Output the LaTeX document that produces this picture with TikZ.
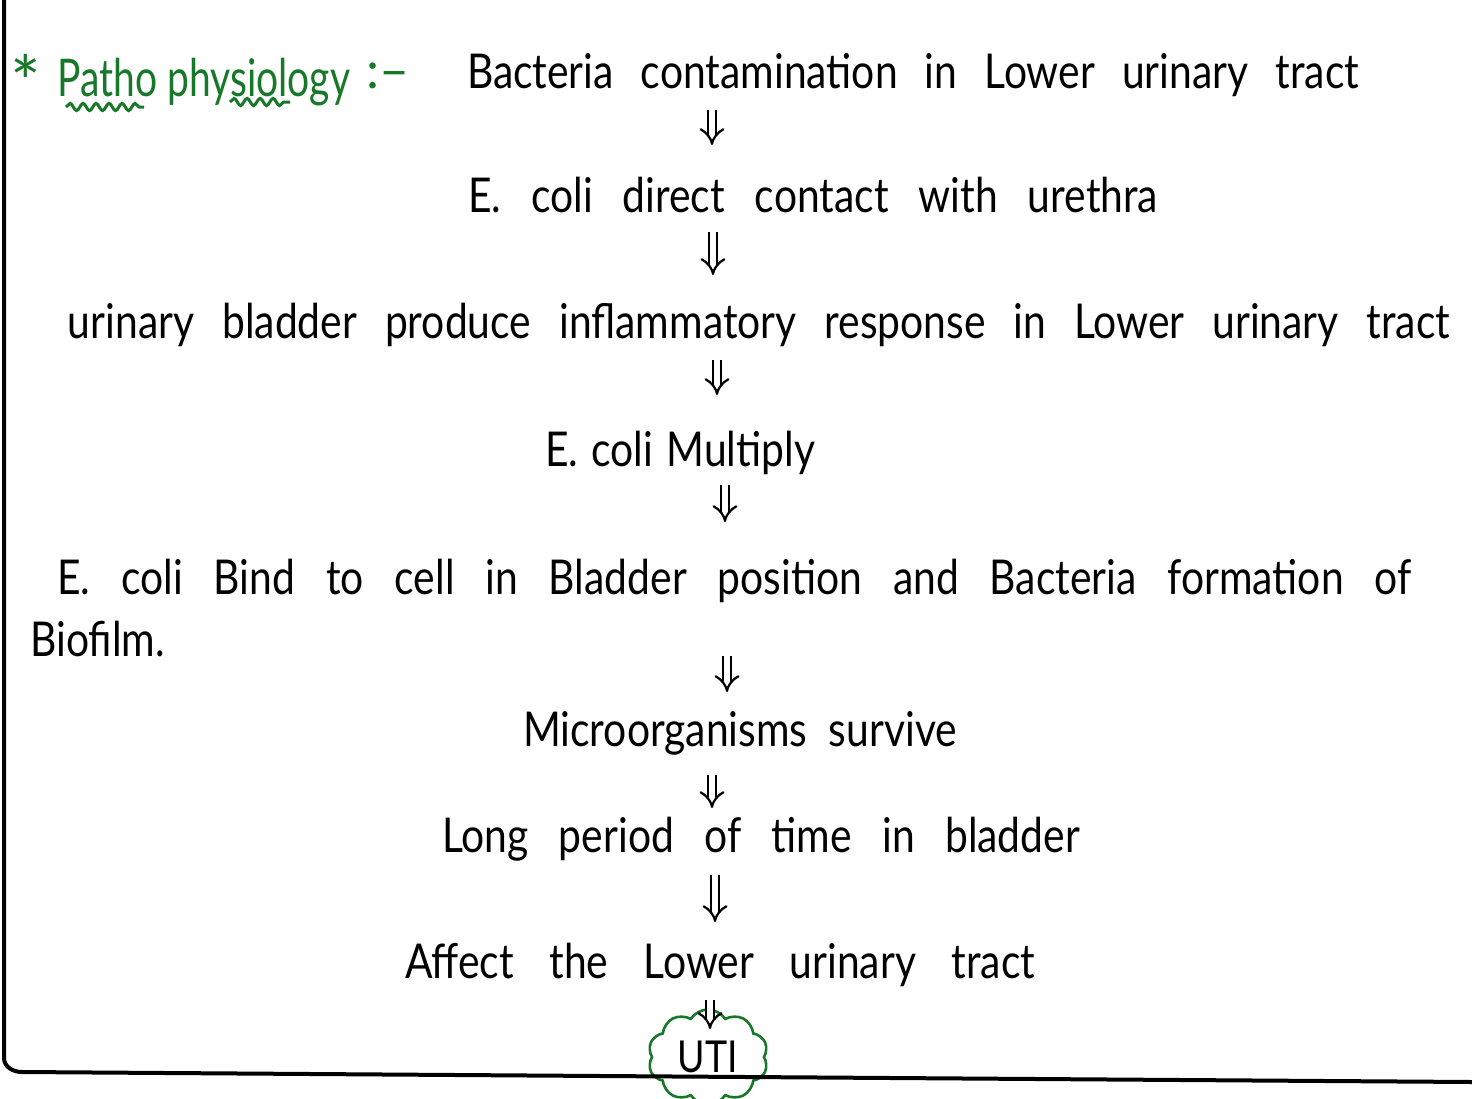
\documentclass[tikz,border=0pt]{standalone}
\usepackage{fontspec}
\usepackage{graphicx}
\setmainfont{Lato}
\usetikzlibrary{arrows.meta,shapes.symbols,decorations.pathmorphing}
\definecolor{inkgreen}{RGB}{24,120,42}
\newcommand\fitline[2]{\scalebox{0.85}[1]{\makebox[\dimexpr#1*100/85\relax][s]{#2}}}

\begin{document}
\begin{tikzpicture}[x=0.5pt, y=-0.5pt,
  every node/.style={inner sep=1pt, font=\fontsize{24}{28}\selectfont},
  txt/.style={anchor=base},
  txtleft/.style={anchor=base west},
  heading/.style={anchor=base west, text=inkgreen, font=\fontsize{26}{30}\selectfont},
  down/.style={double, double distance=3.2pt, line width=1.1pt, -{Implies}},
  squiggle/.style={inkgreen, line width=1.5pt, decorate,
    decoration={snake, amplitude=1.8pt, segment length=6.5pt}}
]
\useasboundingbox (0,0) rectangle (1472,1098);

\node[heading, font=\fontsize{36}{36}\selectfont] (star) at (8,108) {*};
\node[heading] (title) at (55,96) {\scalebox{0.75}[1]{Patho physiology}};
\node[heading] (colon) at (364,88) {:--};
\draw[squiggle] (66,107) -- (144,107);
\draw[squiggle] (230,102) -- (290,102);

\node[txt] (bact) at (913,88) {\fitline{446pt}{Bacteria contamination in Lower urinary tract}};
\node[txt] (contact) at (813,212) {\fitline{345pt}{E. coli direct contact with urethra}};
\node[txt] (inflam) at (759,338) {\fitline{691pt}{urinary bladder produce inflammatory response in Lower urinary tract}};
\node[txt] (multiply) at (680,466) {\fitline{135pt}{E. coli Multiply}};
\node[txtleft] (bind) at (55,594) {\fitline{677pt}{E. coli Bind to cell in Bladder position and Bacteria formation of}};
\node[txtleft] (biofilm) at (28,656) {\scalebox{0.85}[1]{Biofilm.}};
\node[txt] (survive) at (740,746) {\fitline{217pt}{Microorganisms survive}};
\node[txt] (period) at (761,852) {\fitline{319pt}{Long period of time in bladder}};
\node[txt] (affect) at (720,978) {\fitline{315pt}{Affect the Lower urinary tract}};
\node[cloud, cloud puffs=10, cloud puff arc=115, draw=inkgreen, line width=1.3pt,
  minimum width=60pt, minimum height=42pt, inner sep=0pt,
  font=\fontsize{22}{24}\selectfont] (uti) at (708,1057) {\scalebox{0.85}[1]{UTI}};

\draw[down, shorten <=11pt, shorten >=33.5pt] (bact.base -| 712,0) -- (contact.base -| 712,0);
\draw[down, shorten <=10pt, shorten >=31.5pt] (contact.base -| 713,0) -- (inflam.base -| 713,0);
\draw[down, shorten <=11pt, shorten >=35.5pt] (inflam.base -| 717,0) -- (multiply.base -| 717,0);
\draw[down, shorten <=9.5pt, shorten >=36pt] (multiply.base -| 725,0) -- (bind.base -| 725,0);
\draw[down, shorten <=0pt, shorten >=27pt] (biofilm.base -| 727,0) -- (survive.base -| 727,0);
\draw[down, shorten <=14.5pt, shorten >=22pt] (survive.base -| 712,0) -- (period.base -| 712,0);
\draw[down, shorten <=11.5pt, shorten >=28pt] (period.base -| 715,0) -- (affect.base -| 715,0);
\draw[down, shorten <=11pt, shorten >=14pt] (affect.base -| 710,0) -- (uti.center -| 710,0);

\draw[line width=2pt] (4,0) -- (4,1058) to[out=-90,in=180] (22,1072) -- (1472,1082);
\end{tikzpicture}
\end{document}
